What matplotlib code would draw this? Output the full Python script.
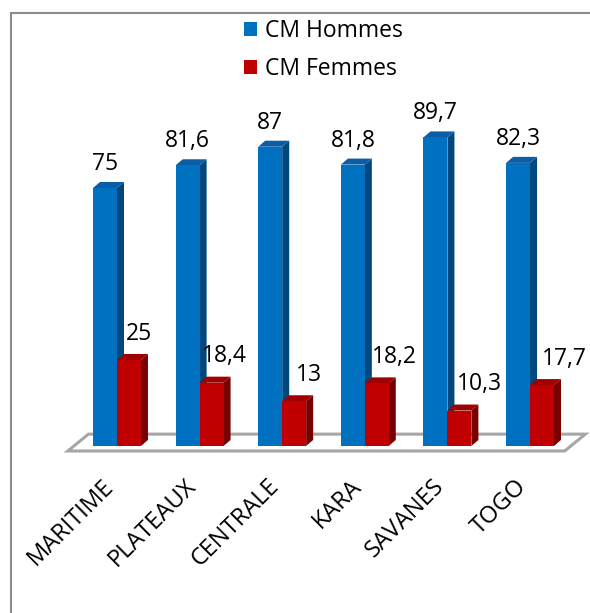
import numpy as np
import matplotlib
matplotlib.use("Agg")
import matplotlib.pyplot as plt
from matplotlib.patches import Polygon, Rectangle, Patch

plt.rcParams['font.family'] = ['Open Sans', 'DejaVu Sans']

# data
regions = ['MARITIME', 'PLATEAUX', 'CENTRALE', 'KARA', 'SAVANES', 'TOGO']
cm_hommes = [75, 81.6, 87, 81.8, 89.7, 82.3]
cm_femmes = [25, 18.4, 13, 18.2, 10.3, 17.7]
labels_h = ['75', '81,6', '87', '81,8', '89,7', '82,3']
labels_f = ['25', '18,4', '13', '18,2', '10,3', '17,7']

# colours (front, side, top)
blue = ('#0070C0', '#00487E', '#0B5EA6')
red = ('#C00000', '#780000', '#A00000')

W, H = 590, 613
fig = plt.figure(figsize=(W / 100, H / 100), dpi=100)
ax = fig.add_axes([0, 0, 1, 1])
ax.set_xlim(-1.416, 5.726)
ax.set_ylim(-48.55, 129.65)
ax.axis('off')

x = np.arange(len(regions))
bw = 0.29          # bar width
ddx, ddy = 0.085, 1.75   # fake depth

# floor
fx0, fx1, fsx, fsy = -0.595, 5.42, 0.25, 4.9
floor = Polygon([(fx0, -1.45), (fx0 + fsx, -1.45 + fsy), (fx1 + fsx, -1.45 + fsy), (fx1, -1.45)],
                closed=True, facecolor='white', edgecolor='#A6A6A6', lw=2.2, zorder=1)
ax.add_patch(floor)


def bars3d(xs, vals, cols, z):
    ax.bar(xs, vals, width=bw, color=cols[0], edgecolor='none', zorder=z + 1)
    for xc, v in zip(xs, vals):
        xr = xc + bw / 2
        xl = xc - bw / 2
        side = Polygon([(xr, 0), (xr + ddx, ddy), (xr + ddx, v + ddy), (xr, v)],
                       closed=True, facecolor=cols[1], edgecolor='none', zorder=z)
        top = Polygon([(xl, v), (xl + ddx, v + ddy), (xr + ddx, v + ddy), (xr, v)],
                      closed=True, facecolor=cols[2], edgecolor='none', zorder=z)
        ax.add_patch(side)
        ax.add_patch(top)


bars3d(x - bw / 2, cm_hommes, blue, 2)
bars3d(x + bw / 2, cm_femmes, red, 4)

# value labels
for i in range(len(regions)):
    ax.text(x[i] - bw / 2, cm_hommes[i] + ddy + 3.5, labels_h[i],
            ha='center', va='baseline', fontsize=16.5, zorder=6)
    ax.text(x[i] + bw / 2 + 0.12 + 0.031 * i, cm_femmes[i] + ddy + 4.2, labels_f[i],
            ha='center', va='baseline', fontsize=16.5, zorder=6)

# category labels
for i, name in enumerate(regions):
    ax.text(x[i] - 0.03, -12.0, name, rotation=45, rotation_mode='anchor',
            ha='right', va='baseline', fontsize=17)

# legend
handles = [Patch(facecolor=blue[0], label='CM Hommes'),
           Patch(facecolor=red[0], label='CM Femmes')]
fig.legend(handles=handles, loc='upper left', bbox_to_anchor=(244 / W, 1 - 19 / H),
           frameon=False, fontsize=16.5, handlelength=0.55, handleheight=0.55,
           handletextpad=0.35, labelspacing=0.6, borderpad=0, borderaxespad=0)

# outer frame
fig.add_artist(Rectangle((11 / W, -0.1), 1.2, 1 - 13 / H + 0.1, transform=fig.transFigure,
                         fill=False, edgecolor='#8C8C8C', lw=1.5))

fig.savefig('out.png', dpi=100)
